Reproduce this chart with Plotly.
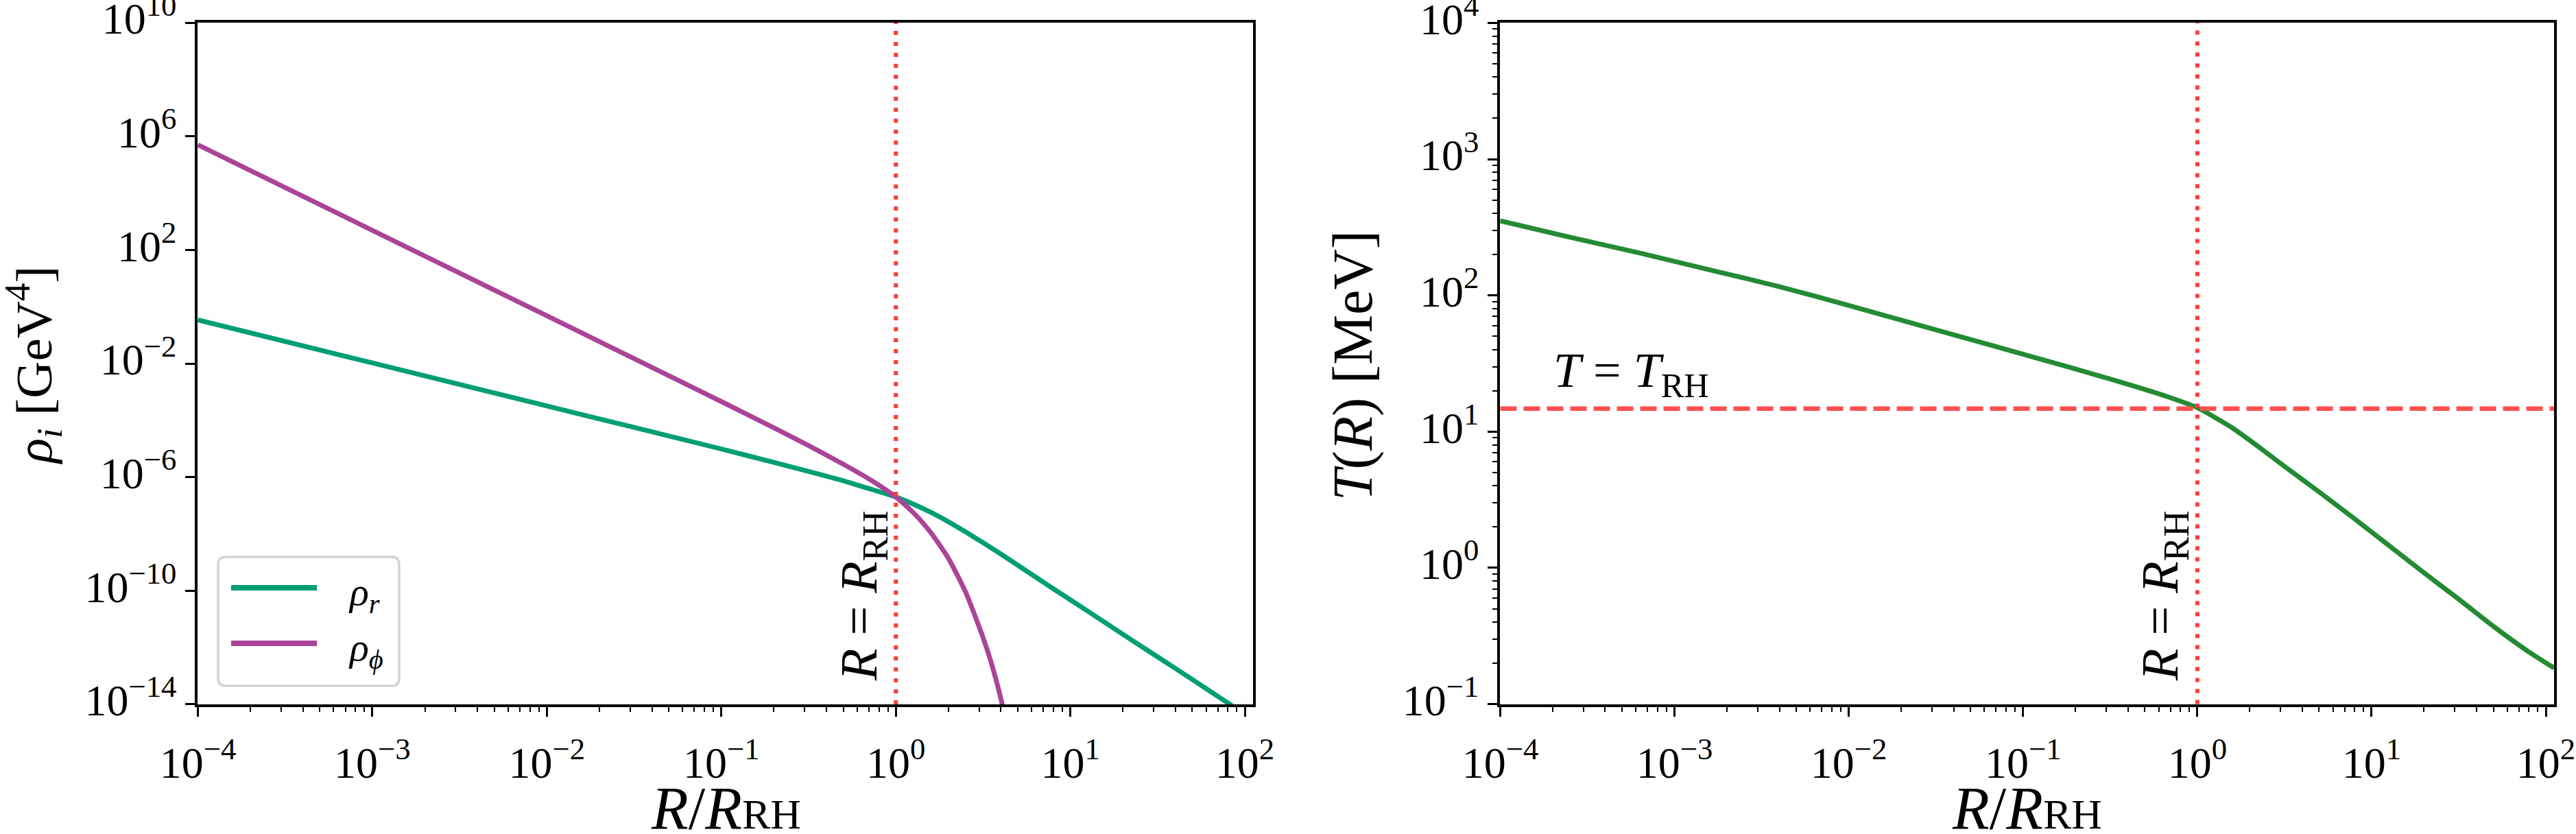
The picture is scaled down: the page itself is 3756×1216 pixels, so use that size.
import plotly.graph_objects as go

W, H = 3756, 1216

# ---------------- data (log10 values) ----------------
log10_R_rad = [-4.0, -3.0, -2.0, -1.5, -1.0, -0.7, -0.5, -0.3, -0.15, 0.0, 0.1, 0.2, 0.3, 0.4,
               0.5, 0.6, 0.75, 0.9, 1.1, 1.3, 1.5, 1.7, 1.934, 2.05]
log10_rho_rad = [-0.467, -1.98, -3.495, -4.25, -5.01, -5.48, -5.80, -6.13, -6.41, -6.70, -6.95,
                 -7.24, -7.57, -7.93, -8.31, -8.70, -9.31, -9.92, -10.72, -11.53, -12.33, -13.13,
                 -14.08, -14.55]

log10_R_phi = [-4.0, -3.0, -2.0, -1.5, -1.0, -0.7, -0.5, -0.3, -0.15, 0.0, 0.1, 0.2, 0.3, 0.4,
               0.5, 0.55, 0.6, 0.64]
log10_rho_phi = [5.70, 2.69, -0.32, -1.83, -3.34, -4.26, -4.89, -5.55, -6.08, -6.70, -7.25,
                 -7.95, -8.85, -10.05, -11.65, -12.60, -13.75, -14.83]

log10_R_T = [-4.0, -3.6, -3.2, -2.8, -2.4, -2.0, -1.6, -1.2, -0.9, -0.7, -0.5, -0.3, -0.15, 0.0,
             0.1, 0.2, 0.35, 0.5, 0.7, 0.9, 1.1, 1.3, 1.5, 1.7, 1.9, 2.047]
log10_T = [2.547, 2.427, 2.311, 2.188, 2.065, 1.926, 1.783, 1.640, 1.532, 1.460, 1.386, 1.309,
           1.247, 1.176, 1.105, 1.028, 0.89, 0.745, 0.556, 0.362, 0.163, -0.036, -0.23, -0.43,
           -0.615, -0.735]

R_RH = 1.0
T_RH = 14.75  # MeV

x_tick_exp = [-4, -3, -2, -1, 0, 1, 2]
y1_tick_exp = [-14, -10, -6, -2, 2, 6, 10]
y2_tick_exp = [-1, 0, 1, 2, 3, 4]

# ---------------- styling ----------------
FONT = "Liberation Serif, Times New Roman, DejaVu Serif, serif"
C_RAD = "#009E73"
C_PHI = "#AA4499"
C_T = "#238B33"
C_DOT = "#FF3B3B"
C_DASH = "#FF5050"
LW = 7
EPS = 0.002


def px2x(p):
    return p / W


def px2y(p):
    return 1 - p / H


def sup(e):
    s = str(e).replace("-", "\u2212")
    return f"10<sup>{s}</sup>"


def minor_vals(lo, hi):
    out = []
    for e in range(lo, hi):
        for k in range(2, 10):
            out.append(k * 10.0 ** e)
    return out


def p10(arr):
    return [10.0 ** v for v in arr]


fig = go.Figure()

fig.add_trace(go.Scatter(x=p10(log10_R_rad), y=p10(log10_rho_rad), mode="lines", name="ρ_r",
                         line=dict(color=C_RAD, width=LW, shape="spline", smoothing=0.6),
                         xaxis="x", yaxis="y", showlegend=False))
fig.add_trace(go.Scatter(x=p10(log10_R_phi), y=p10(log10_rho_phi), mode="lines", name="ρ_ϕ",
                         line=dict(color=C_PHI, width=LW, shape="spline", smoothing=0.6),
                         xaxis="x", yaxis="y", showlegend=False))
# R = R_RH (left)
fig.add_trace(go.Scatter(x=[R_RH, R_RH], y=[1e-14, 1e10], mode="lines",
                         line=dict(color=C_DOT, width=6, dash="6px,10px"),
                         xaxis="x", yaxis="y", showlegend=False, hoverinfo="skip"))

fig.add_trace(go.Scatter(x=p10(log10_R_T), y=p10(log10_T), mode="lines", name="T(R)",
                         line=dict(color=C_T, width=LW, shape="spline", smoothing=0.6),
                         xaxis="x2", yaxis="y2", showlegend=False))
fig.add_trace(go.Scatter(x=[R_RH, R_RH], y=[0.1, 1e4], mode="lines",
                         line=dict(color=C_DOT, width=6, dash="6px,10px"),
                         xaxis="x2", yaxis="y2", showlegend=False, hoverinfo="skip"))
fig.add_trace(go.Scatter(x=[1e-4, 10 ** 2.05], y=[T_RH, T_RH], mode="lines",
                         line=dict(color=C_DASH, width=6.5, dash="24px,10px"),
                         xaxis="x2", yaxis="y2", showlegend=False, hoverinfo="skip"))

tickfont = dict(family=FONT, size=64, color="black")
common = dict(type="log", showline=True, mirror=True, linecolor="black", linewidth=3.5,
              ticks="outside", ticklen=14, tickwidth=3, tickcolor="black", showgrid=False,
              zeroline=False, tickfont=tickfont, tickmode="array", ticklabeloverflow="allow",
              automargin=False)
minor_x = dict(ticks="outside", ticklen=7, tickwidth=2, tickcolor="black",
               tickvals=minor_vals(-4, 2), showgrid=False)

xr = [-4 - EPS, 2.047]
fig.update_layout(
    width=W, height=H, margin=dict(l=0, r=0, t=0, b=0, autoexpand=False),
    paper_bgcolor="white", plot_bgcolor="white",
    font=dict(family=FONT, color="black"),
    xaxis=dict(common, domain=[px2x(288), px2x(1827)], range=xr, anchor="y",
               tickvals=[10.0 ** e for e in x_tick_exp], ticktext=[sup(e) for e in x_tick_exp],
               ticklabelstandoff=12, minor=minor_x),
    yaxis=dict(common, domain=[px2y(1027), px2y(33)], range=[-14 - EPS, 10 + EPS], anchor="x",
               tickvals=[10.0 ** e for e in y1_tick_exp], ticktext=[sup(e) for e in y1_tick_exp],
               ticklabelshift=-6),
    xaxis2=dict(common, domain=[px2x(2187), px2x(3724)], range=xr, anchor="y2",
                tickvals=[10.0 ** e for e in x_tick_exp], ticktext=[sup(e) for e in x_tick_exp],
                ticklabelstandoff=12, minor=minor_x),
    yaxis2=dict(common, domain=[px2y(1027), px2y(33)], range=[-1 - EPS, 4 + EPS], anchor="x2",
                tickvals=[10.0 ** e for e in y2_tick_exp], ticktext=[sup(e) for e in y2_tick_exp],
                ticklabelshift=-6,
                minor=dict(ticks="outside", ticklen=7, tickwidth=2, tickcolor="black",
                           tickvals=minor_vals(-1, 4), showgrid=False)),
)

ann = []


def text(x, y, t, size, angle=0, xanchor="center", yanchor="middle"):
    ann.append(dict(x=px2x(x), y=px2y(y), xref="paper", yref="paper", text=t, showarrow=False,
                    font=dict(family=FONT, size=size, color="black"), textangle=angle,
                    xanchor=xanchor, yanchor=yanchor))


# axis titles (subscript kept close to the baseline, as in the reference)
xtitle = "<i>R</i>/<i>R</i><span style='font-size:62px'>RH</span>"
text(1058, 1178, xtitle, 88)
text(2955, 1178, xtitle, 88)
text(48, 533, "<i>ρ<sub>i</sub></i> [GeV<sup>4</sup>]", 75, angle=-90)
text(1972, 533, "<i>T</i>(<i>R</i>) [MeV]", 82, angle=-90)

# line labels
rlab = "<i>R</i> = <i>R</i><sub>RH</sub>"
text(1258, 869, rlab, 76, angle=-90)
text(3155, 869, rlab, 76, angle=-90)
text(2263, 545, "<i>T</i> = <i>T</i><sub>RH</sub>", 72, xanchor="left")

# manual legend
lx0, lx1, ly0, ly1, rad = 318, 582, 812, 1000, 11
rx, ry = rad / W, rad / H
X0, X1, Y0, Y1 = px2x(lx0), px2x(lx1), px2y(ly0), px2y(ly1)
path = (f"M{X0 + rx},{Y0} L{X1 - rx},{Y0} Q{X1},{Y0} {X1},{Y0 - ry} "
        f"L{X1},{Y1 + ry} Q{X1},{Y1} {X1 - rx},{Y1} L{X0 + rx},{Y1} Q{X0},{Y1} {X0},{Y1 + ry} "
        f"L{X0},{Y0 - ry} Q{X0},{Y0} {X0 + rx},{Y0} Z")
shapes = [dict(type="path", path=path, xref="paper", yref="paper", fillcolor="white",
               line=dict(color="#D3D3D3", width=3.5), layer="above")]
for yy, col in [(857, C_RAD), (938, C_PHI)]:
    shapes.append(dict(type="line", xref="paper", yref="paper", x0=px2x(337), x1=px2x(462),
                       y0=px2y(yy), y1=px2y(yy), line=dict(color=col, width=8), layer="above"))
text(506, 866, "<i>ρ<sub>r</sub></i>", 58, xanchor="left")
text(506, 947, "<i>ρ<sub>ϕ</sub></i>", 58, xanchor="left")

fig.update_layout(annotations=ann, shapes=shapes)

fig.write_html("out.html", include_plotlyjs=True, config={"displayModeBar": False})
